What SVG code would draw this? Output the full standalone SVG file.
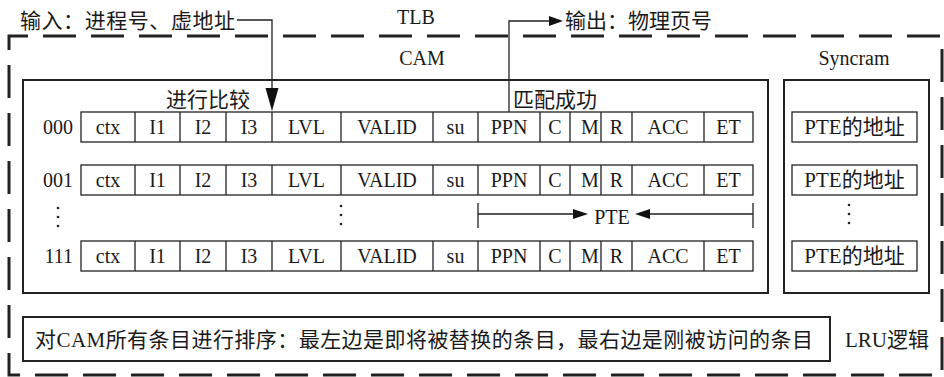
<svg xmlns="http://www.w3.org/2000/svg" width="944" height="377" viewBox="0 0 944 377">
<defs>
<style>
.lat{font-family:"Liberation Serif","Noto Sans CJK SC",serif;font-size:20px;fill:#1a1a1a}
.cjk{font-family:"Liberation Serif","Noto Sans CJK SC",serif;font-size:21px;fill:#1a1a1a}
.c{text-anchor:middle}
.cell{fill:#fff;stroke:#222;stroke-width:1.3}
.box{fill:none;stroke:#222;stroke-width:2}
.dash{fill:none;stroke:#222;stroke-width:3;stroke-dasharray:33 15}
.ln{fill:none;stroke:#222;stroke-width:1.3}
.ah{fill:#111}
.dot{fill:#222}
</style>
<g id="rowcells">
<rect class="cell" x="81" y="0" width="672" height="30"/>
<path class="ln" d="M135 0V30M180 0V30M226 0V30M272 0V30M341 0V30M433 0V30M478 0V30M540 0V30M570 0V30M601 0V30M632 0V30M704 0V30"/>
<text class="lat c" x="108" y="22">ctx</text>
<text class="lat c" x="157.5" y="22">I1</text>
<text class="lat c" x="203" y="22">I2</text>
<text class="lat c" x="249" y="22">I3</text>
<text class="lat c" x="306.5" y="22">LVL</text>
<text class="lat c" x="387" y="22">VALID</text>
<text class="lat c" x="455.5" y="22">su</text>
<text class="lat c" x="509" y="22">PPN</text>
<text class="lat c" x="555" y="22">C</text>
<text class="lat c" x="590" y="22">M</text>
<text class="lat c" x="616.5" y="22">R</text>
<text class="lat c" x="668" y="22">ACC</text>
<text class="lat c" x="728.5" y="22">ET</text>
</g>
<g id="ptecell">
<rect class="cell" x="792" y="0" width="125" height="30"/>
<text class="cjk c" x="854.5" y="22">PTE的地址</text>
</g>
</defs>

<g id="tlb">
<path class="dash" d="M9 50V36H942V375H9Z"/>
<text class="lat c" x="416" y="24">TLB</text>
</g>

<g id="cam">
<rect class="box" x="23" y="80" width="745" height="213"/>
<text class="lat c" x="422" y="65">CAM</text>
<text class="cjk" x="166" y="107">进行比较</text>
<text class="cjk" x="513" y="107">匹配成功</text>
</g>

<g id="row000">
<text class="lat" x="73" y="134" text-anchor="end">000</text>
<use href="#rowcells" y="112"/>
</g>
<g id="row001">
<text class="lat" x="73" y="187" text-anchor="end">001</text>
<use href="#rowcells" y="165"/>
</g>
<g id="row111">
<text class="lat" x="73" y="263" text-anchor="end">111</text>
<use href="#rowcells" y="241"/>
</g>
<g id="ellipsis">
<circle class="dot" cx="58" cy="208" r="1.3"/><circle class="dot" cx="58" cy="217" r="1.3"/><circle class="dot" cx="58" cy="226" r="1.3"/>
<circle class="dot" cx="341" cy="206" r="1.3"/><circle class="dot" cx="341" cy="215" r="1.3"/><circle class="dot" cx="341" cy="224" r="1.3"/>
<circle class="dot" cx="849" cy="205" r="1.3"/><circle class="dot" cx="849" cy="214" r="1.3"/><circle class="dot" cx="849" cy="223" r="1.3"/>
</g>

<g id="syncram">
<rect class="box" x="784" y="80" width="145" height="213"/>
<text class="lat c" x="854" y="65">Syncram</text>
<use href="#ptecell" y="112"/>
<use href="#ptecell" y="165"/>
<use href="#ptecell" y="241"/>
</g>

<g id="lru">
<rect class="box" x="23" y="317" width="807" height="44"/>
<text class="cjk" x="35" y="347" textLength="778" lengthAdjust="spacing">对CAM所有条目进行排序：最左边是即将被替换的条目，最右边是刚被访问的条目</text>
<text class="cjk" x="845" y="347">LRU逻辑</text>
</g>

<g id="input">
<text class="cjk" x="20" y="28" textLength="215" lengthAdjust="spacing">输入：进程号、虚地址</text>
</g>
<g id="output">
<text class="cjk" x="565" y="28">输出：物理页号</text>
</g>

<g id="connectors">
<path class="ln" d="M237 20H272V90"/>
<path class="ah" d="M265.5 88L278.5 88L272 111Z"/>
<path class="ln" d="M509 112V21H550"/>
<path class="ah" d="M549 16L549 26L563 21Z"/>
<path class="ln" d="M478 203V228M753 203V228M478 214H575M650 214H753"/>
<path class="ah" d="M573 209L573 219L588 214Z"/>
<path class="ah" d="M650 209L650 219L635 214Z"/>
<text class="lat c" x="612" y="224">PTE</text>
</g>
</svg>
